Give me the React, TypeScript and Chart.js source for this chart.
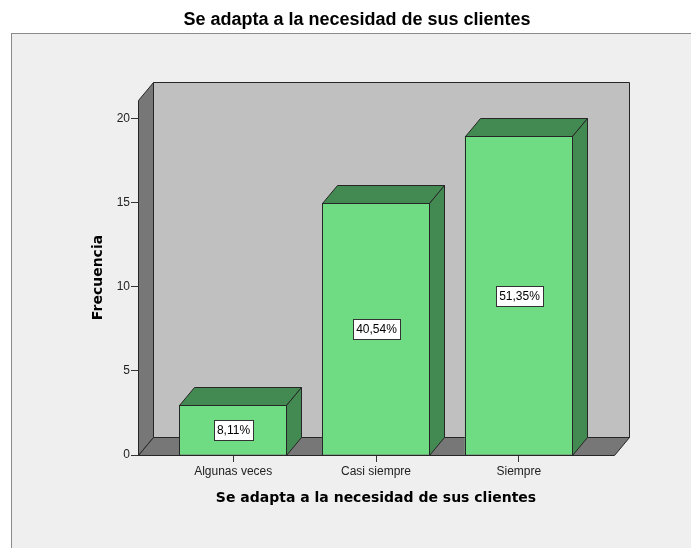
import React, { useEffect, useRef } from "react";
import { Chart, registerables } from "chart.js";

Chart.register(...registerables);

const categories = ["Algunas veces", "Casi siempre", "Siempre"];
const frequencies = [3, 15, 19];
const percentLabels = ["8,11%", "40,54%", "51,35%"];
const yTickValues = [0, 5, 10, 15, 20];
const chartTitle = "Se adapta a la necesidad de sus clientes";
const xAxisTitle = "Se adapta a la necesidad de sus clientes";
const yAxisTitle = "Frecuencia";

const W = 691;
const H = 548;
const DX = 15;
const DY = -18;
const OUTLINE = "#262626";

type Pt = [number, number];

function poly(ctx: CanvasRenderingContext2D, pts: Pt[], fill: string) {
  ctx.beginPath();
  pts.forEach(([x, y], i) => (i === 0 ? ctx.moveTo(x + 0.5, y + 0.5) : ctx.lineTo(x + 0.5, y + 0.5)));
  ctx.closePath();
  ctx.fillStyle = fill;
  ctx.fill();
  ctx.strokeStyle = OUTLINE;
  ctx.lineWidth = 1;
  ctx.stroke();
}

const spss3d = {
  id: "spss3d",
  beforeDraw(chart: any) {
    const ctx: CanvasRenderingContext2D = chart.ctx;
    const { left, right, top, bottom } = chart.chartArea;
    ctx.save();
    ctx.fillStyle = "#ffffff";
    ctx.fillRect(0, 0, W, H);
    ctx.fillStyle = "#efefef";
    ctx.fillRect(11, 33, W, H);
    ctx.strokeStyle = "#8a8a8a";
    ctx.lineWidth = 1;
    ctx.strokeRect(11.5, 33.5, W + 20, H + 20);

    // main title
    ctx.fillStyle = "#000";
    ctx.font = 'bold 18px "Liberation Sans", Arial, sans-serif';
    ctx.textAlign = "center";
    ctx.textBaseline = "alphabetic";
    ctx.fillText(chartTitle, 357, 25);

    const l = Math.round(left);
    const r = Math.round(right);
    const t = Math.round(top);
    const b = Math.round(bottom);
    // back wall
    poly(ctx, [[l + DX, t + DY], [r + DX, t + DY], [r + DX, b + DY], [l + DX, b + DY]], "#c0c0c0");
    // side wall
    poly(ctx, [[l, t], [l + DX, t + DY], [l + DX, b + DY], [l, b]], "#777777");
    // floor
    poly(ctx, [[l, b], [l + DX, b + DY], [r + DX, b + DY], [r, b]], "#777777");

    // axis titles
    ctx.fillStyle = "#000";
    ctx.font = 'bold 14px "DejaVu Sans", sans-serif';
    ctx.textAlign = "center";
    ctx.textBaseline = "middle";
    ctx.fillText(xAxisTitle, (left + right) / 2, 498);
    ctx.save();
    ctx.translate(98, (top + bottom) / 2);
    ctx.rotate(-Math.PI / 2);
    ctx.fillText(yAxisTitle, 0, 0);
    ctx.restore();
    ctx.restore();
  },
  afterDatasetsDraw(chart: any) {
    const ctx: CanvasRenderingContext2D = chart.ctx;
    const meta = chart.getDatasetMeta(0);
    ctx.save();
    meta.data.forEach((bar: any, i: number) => {
      const { x, y, base, width } = bar.getProps(["x", "y", "base", "width"], true);
      const x0 = Math.round(x - width / 2);
      const x1 = Math.round(x + width / 2) - 1;
      const yt = Math.round(y);
      const yb = Math.round(base);
      // top face
      poly(ctx, [[x0, yt], [x1, yt], [x1 + DX, yt + DY], [x0 + DX, yt + DY]], "#438a52");
      // side face
      poly(ctx, [[x1, yt], [x1 + DX, yt + DY], [x1 + DX, yb + DY], [x1, yb]], "#438a52");
      // front outline
      ctx.strokeStyle = OUTLINE;
      ctx.lineWidth = 1;
      ctx.strokeRect(x0 + 0.5, yt + 0.5, x1 - x0, yb - yt);

      // percentage label
      ctx.font = '12px "Liberation Sans", Arial, sans-serif';
      const tw = ctx.measureText(percentLabels[i]).width;
      const bw = Math.round(tw + 6);
      const bh = 20;
      const cx = Math.round(x);
      const cy = Math.round((yt + yb) / 2);
      const bx = Math.round(cx - bw / 2);
      const by = Math.round(cy - bh / 2);
      ctx.fillStyle = "#ffffff";
      ctx.fillRect(bx, by, bw, bh);
      ctx.strokeStyle = "#333333";
      ctx.strokeRect(bx + 0.5, by + 0.5, bw, bh);
      ctx.fillStyle = "#000";
      ctx.textAlign = "center";
      ctx.textBaseline = "middle";
      ctx.fillText(percentLabels[i], cx + 0.5, cy + 1);
    });
    ctx.restore();
  },
};

export default function App() {
  const ref = useRef<HTMLCanvasElement | null>(null);
  useEffect(() => {
    if (!ref.current) return;
    const tickFont = { family: '"Liberation Sans", Arial, sans-serif', size: 12 };
    const chart = new Chart(ref.current, {
      type: "bar",
      data: {
        datasets: [
          {
            data: categories.map((_, i) => ({ x: i, y: frequencies[i] })),
            backgroundColor: "#6fdc84",
            borderColor: OUTLINE,
            borderWidth: 0,
            barPercentage: 0.757,
            categoryPercentage: 1,
          },
        ],
      },
      options: {
        animation: false,
        responsive: false,
        devicePixelRatio: 1,
        layout: { padding: { top: 100, right: 77, left: 0, bottom: 0 } },
        plugins: {
          legend: { display: false },
          title: { display: false },
          tooltip: { enabled: false },
        },
        scales: {
          x: {
            type: "linear",
            min: -2 / 3,
            max: 8 / 3,
            offset: false,
            afterFit: (s: any) => {
              s.height = 93;
            },
            afterBuildTicks: (s: any) => {
              s.ticks = categories.map((_, i) => ({ value: i }));
            },
            ticks: {
              callback: (v: any) => categories[v] ?? "",
              font: tickFont,
              color: "#222",
              padding: 2,
              maxRotation: 0,
              autoSkip: false,
            },
            grid: { drawOnChartArea: false, drawTicks: true, tickLength: 7, color: "#333", offset: false },
            border: { display: false },
          },
          y: {
            type: "linear",
            min: 0,
            max: 21.13,
            afterFit: (s: any) => {
              s.width = 138;
            },
            afterBuildTicks: (s: any) => {
              s.ticks = yTickValues.map((v) => ({ value: v }));
            },
            ticks: { font: tickFont, color: "#222", padding: 1 },
            grid: { drawOnChartArea: false, drawTicks: true, tickLength: 7, color: "#333" },
            border: { display: false },
          },
        },
      },
      plugins: [spss3d],
    } as any);
    return () => chart.destroy();
  }, []);
  return (
    <div style={{ position: "fixed", left: 0, top: 0, width: W, height: H }}>
      <canvas ref={ref} width={W} height={H} style={{ display: "block" }} />
    </div>
  );
}
